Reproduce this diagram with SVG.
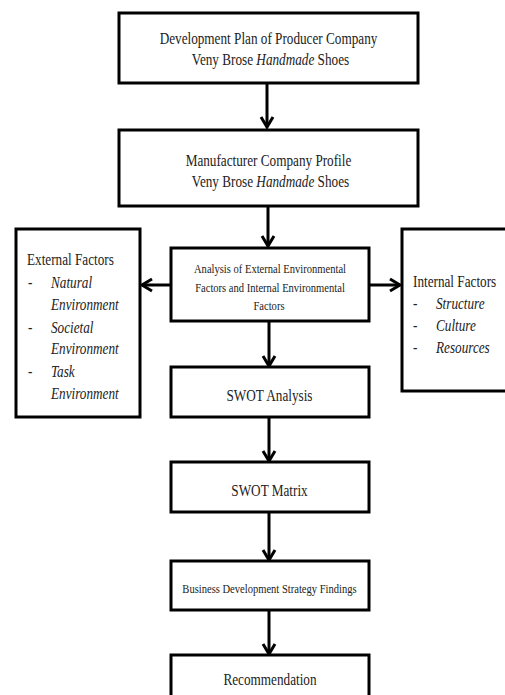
<svg xmlns="http://www.w3.org/2000/svg" width="505" height="695" viewBox="0 0 505 695">
<defs>
<style>
.box{fill:#fff;stroke:#000;stroke-width:3}
.t{font-family:"Liberation Serif","Times New Roman",serif;fill:#222;font-size:16.5px}
.s{font-size:13.2px}
.c{text-anchor:middle}
.i{font-style:italic}
.con{stroke:#000;stroke-width:3;fill:none}
</style>
<marker id="ah" markerUnits="userSpaceOnUse" markerWidth="16" markerHeight="16" refX="12" refY="7" orient="auto" viewBox="0 0 16 14">
<path d="M2,1 L12,7 L2,13" fill="none" stroke="#000" stroke-width="3"/>
</marker>
</defs>
<rect width="505" height="695" fill="#fff"/>
<g id="connectors">
<line class="con" x1="267" y1="83" x2="267" y2="127" marker-end="url(#ah)"/>
<line class="con" x1="268" y1="206" x2="268" y2="246" marker-end="url(#ah)"/>
<line class="con" x1="171" y1="285" x2="142" y2="285" marker-end="url(#ah)"/>
<line class="con" x1="369" y1="285" x2="400" y2="285" marker-end="url(#ah)"/>
<line class="con" x1="269" y1="321" x2="269" y2="366" marker-end="url(#ah)"/>
<line class="con" x1="269" y1="417" x2="269" y2="461" marker-end="url(#ah)"/>
<line class="con" x1="269" y1="512" x2="269" y2="560" marker-end="url(#ah)"/>
<line class="con" x1="269" y1="610" x2="269" y2="654" marker-end="url(#ah)"/>
</g>
<g id="n1">
<rect class="box" x="119" y="13" width="299" height="70"/>
<text class="t c" x="268.5" y="44" transform="matrix(0.8 0 0 1 53.7 0)">Development Plan of Producer Company</text>
<text class="t c" x="270.5" y="65" transform="matrix(0.8 0 0 1 54.1 0)">Veny Brose <tspan class="i">Handmade</tspan> Shoes</text>
</g>
<g id="n2">
<rect class="box" x="119" y="130" width="299" height="76"/>
<text class="t c" x="268.5" y="166" transform="matrix(0.8 0 0 1 53.7 0)">Manufacturer Company Profile</text>
<text class="t c" x="270.5" y="187" transform="matrix(0.8 0 0 1 54.1 0)">Veny Brose <tspan class="i">Handmade</tspan> Shoes</text>
</g>
<g id="n3">
<rect class="box" x="171" y="248" width="198" height="73"/>
<text class="t s c" x="270" y="273" transform="matrix(0.8 0 0 1 54 0)">Analysis of External Environmental</text>
<text class="t s c" x="270" y="292" transform="matrix(0.8 0 0 1 54 0)">Factors and Internal Environmental</text>
<text class="t s c" x="269" y="310" transform="matrix(0.8 0 0 1 53.8 0)">Factors</text>
</g>
<g id="n4">
<rect class="box" x="16" y="229" width="124" height="188"/>
<text class="t" x="27" y="265" transform="matrix(0.8 0 0 1 5.4 0)">External Factors</text>
<text class="t" x="28" y="288" transform="matrix(0.8 0 0 1 5.6 0)">-</text>
<text class="t i" x="51" y="288" transform="matrix(0.8 0 0 1 10.2 0)">Natural</text>
<text class="t i" x="51" y="310" transform="matrix(0.8 0 0 1 10.2 0)">Environment</text>
<text class="t" x="28" y="333" transform="matrix(0.8 0 0 1 5.6 0)">-</text>
<text class="t i" x="51" y="333" transform="matrix(0.8 0 0 1 10.2 0)">Societal</text>
<text class="t i" x="51" y="354" transform="matrix(0.8 0 0 1 10.2 0)">Environment</text>
<text class="t" x="28" y="377" transform="matrix(0.8 0 0 1 5.6 0)">-</text>
<text class="t i" x="51" y="377" transform="matrix(0.8 0 0 1 10.2 0)">Task</text>
<text class="t i" x="51" y="399" transform="matrix(0.8 0 0 1 10.2 0)">Environment</text>
</g>
<g id="n5">
<rect class="box" x="402" y="229" width="110" height="162"/>
<text class="t" x="413" y="287" transform="matrix(0.8 0 0 1 82.6 0)">Internal Factors</text>
<text class="t" x="413" y="309" transform="matrix(0.8 0 0 1 82.6 0)">-</text>
<text class="t i" x="436" y="309" transform="matrix(0.8 0 0 1 87.2 0)">Structure</text>
<text class="t" x="413" y="331" transform="matrix(0.8 0 0 1 82.6 0)">-</text>
<text class="t i" x="436" y="331" transform="matrix(0.8 0 0 1 87.2 0)">Culture</text>
<text class="t" x="413" y="353" transform="matrix(0.8 0 0 1 82.6 0)">-</text>
<text class="t i" x="436" y="353" transform="matrix(0.8 0 0 1 87.2 0)">Resources</text>
</g>
<g id="n6">
<rect class="box" x="171" y="367" width="198" height="50"/>
<text class="t c" x="269.5" y="401" transform="matrix(0.8 0 0 1 53.9 0)">SWOT Analysis</text>
</g>
<g id="n7">
<rect class="box" x="171" y="462" width="198" height="50"/>
<text class="t c" x="269.5" y="496" transform="matrix(0.8 0 0 1 53.9 0)">SWOT Matrix</text>
</g>
<g id="n8">
<rect class="box" x="171" y="561" width="198" height="49"/>
<text class="t s c" x="269.5" y="593" transform="matrix(0.8 0 0 1 53.9 0)">Business Development Strategy Findings</text>
</g>
<g id="n9">
<rect class="box" x="171" y="655" width="198" height="50"/>
<text class="t c" x="270" y="685" transform="matrix(0.8 0 0 1 54 0)">Recommendation</text>
</g>
</svg>
